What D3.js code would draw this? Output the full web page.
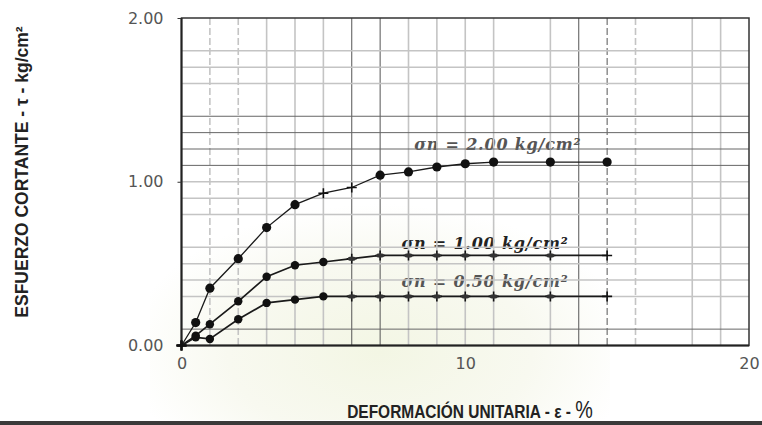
<!DOCTYPE html>
<html><head><meta charset="utf-8">
<script src="https://cdn.jsdelivr.net/npm/d3@7"></script>
<style>html,body{margin:0;padding:0;background:#fff;}svg{display:block}</style>
</head><body>
<svg id="c" width="762" height="425"></svg>
<script>
// ---- data ----
const strainX = [0, 0.5, 1, 2, 3, 4, 5, 6, 7, 8, 9, 10, 11, 13, 15];
const tau200 = [0, 0.14, 0.35, 0.53, 0.72, 0.86, 0.93, 0.965, 1.04, 1.06, 1.09, 1.11, 1.12, 1.12, 1.12];
const tau100 = [0, 0.06, 0.13, 0.27, 0.42, 0.49, 0.51, 0.53, 0.55, 0.55, 0.55, 0.55, 0.55, 0.55, 0.55];
const tau050 = [0, 0.05, 0.04, 0.16, 0.26, 0.28, 0.30, 0.30, 0.30, 0.30, 0.30, 0.30, 0.30, 0.30, 0.30];
const seriesLabels = ["σn = 2.00 kg/cm²", "σn = 1.00 kg/cm²", "σn = 0.50 kg/cm²"];
const xTicks = [0, 10, 20];
const yTicks = [0, 1, 2];
const xTitle = "DEFORMACIÓN UNITARIA - ε - ";
const yTitle = "ESFUERZO CORTANTE - τ - kg/cm²";

// ---- layout ----
const svg = d3.select("#c");
const L = 181.5, R = 749, T = 18, B = 345.5;
const x = d3.scaleLinear().domain([0, 20]).range([L, R]);
const y = d3.scaleLinear().domain([0, 2]).range([B, T]);

// faint scan tint
const defs = svg.append("defs");
const rg = defs.append("radialGradient").attr("id", "tint")
  .attr("cx", 0.5).attr("cy", 0.75).attr("r", 0.55);
rg.append("stop").attr("offset", "0%").attr("stop-color", "#f3f6e4");
rg.append("stop").attr("offset", "60%").attr("stop-color", "#f8f9f0");
rg.append("stop").attr("offset", "100%").attr("stop-color", "#ffffff");
svg.append("rect").attr("x", 150).attr("y", 150).attr("width", 460).attr("height", 270)
  .attr("fill", "url(#tint)");

// series labels (under grid)
const labelY = [1.195, 0.59, 0.36];
const labelX = [8.2, 7.75, 7.75];
const g = svg.append("g");
seriesLabels.forEach((t, i) => {
  g.append("text").attr("x", x(labelX[i])).attr("y", y(labelY[i]))
    .attr("font-family", "DejaVu Serif, serif").attr("font-weight", "bold")
    .attr("font-style", "italic").attr("font-size", 16).attr("letter-spacing", 0.8)
    .attr("fill", i === 1 ? "#222" : "#555")
    .text(t);
});

// grid
const vGrid = d3.range(1, 20).filter(d => d !== 12 && d !== 17);
const darkV = new Set([6, 7, 14, 15]);
svg.append("g").selectAll("line").data(vGrid).join("line")
  .attr("x1", d => x(d)).attr("x2", d => x(d)).attr("y1", T).attr("y2", B)
  .attr("stroke", d => darkV.has(d) ? "#555" : "#c4c4c4")
  .attr("stroke-width", d => darkV.has(d) ? 1 : 1.6)
  .attr("stroke-dasharray", d => (d === 1 || d === 2 || d === 15 || d === 16) ? "7,3" : null);
const hGrid = d3.range(1, 20).filter(d => ![19, 15, 7, 2].includes(d)).map(d => d / 10);
const darkH = d => (d >= 1.05 && d <= 1.45) || d === 0.1;
svg.append("g").selectAll("line").data(hGrid).join("line")
  .attr("x1", L).attr("x2", R).attr("y1", d => y(d)).attr("y2", d => y(d))
  .attr("stroke", d => darkH(d) ? "#666" : "#c4c4c4")
  .attr("stroke-width", d => darkH(d) ? 1 : 1.5);

// frame
svg.append("rect").attr("x", L).attr("y", T).attr("width", R - L).attr("height", B - T)
  .attr("fill", "none").attr("stroke", "#333").attr("stroke-width", 1.5);
svg.append("line").attr("x1", L).attr("x2", L).attr("y1", T).attr("y2", B + 1)
  .attr("stroke", "#222").attr("stroke-width", 2);
svg.append("line").attr("x1", L - 4).attr("x2", R).attr("y1", B).attr("y2", B)
  .attr("stroke", "#222").attr("stroke-width", 2);

// axes tick labels via d3 axes
const yAxis = d3.axisLeft(y).tickValues(yTicks).tickFormat(d3.format(".2f")).tickSize(4).tickPadding(14);
const ya = svg.append("g").attr("transform", `translate(${L},0)`).call(yAxis);
ya.select(".domain").remove();
ya.selectAll("line").attr("stroke", "#333");
ya.selectAll("text").attr("font-family", "DejaVu Sans, sans-serif").attr("font-size", 16).attr("fill", "#555");

const xAxis = d3.axisBottom(x).tickValues(xTicks).tickSize(0).tickPadding(12);
const xa = svg.append("g").attr("transform", `translate(0,${B})`).call(xAxis);
xa.select(".domain").remove();
xa.selectAll("text").attr("font-family", "DejaVu Sans, sans-serif").attr("font-size", 16).attr("fill", "#555");

// series
const all = [tau200, tau100, tau050];
const line = d3.line().x(d => x(d[0])).y(d => y(d[1]));
all.forEach((vals, si) => {
  const pts = strainX.map((v, i) => [v, vals[i]]);
  svg.append("path").datum(pts).attr("d", line).attr("fill", "none")
    .attr("stroke", "#1a1a1a").attr("stroke-width", si === 0 ? 1.3 : 1.7);
  pts.forEach(p => {
    const cross = (si === 0 && (p[0] === 5 || p[0] === 6)) || (si > 0 && p[0] >= 6);
    if (p[0] === 0) {
      svg.append("path").attr("d", `M${x(0)-5},${y(0)}h10M${x(0)},${y(0)-5}v10`)
        .attr("stroke", "#111").attr("stroke-width", 2);
    } else if (cross) {
      svg.append("path").attr("d", `M${x(p[0])-5},${y(p[1])}h10M${x(p[0])},${y(p[1])-5}v10`)
        .attr("stroke", "#111").attr("stroke-width", 1.6);
      if (si > 0 && p[0] < 15) svg.append("ellipse").attr("cx", x(p[0])).attr("cy", y(p[1]))
        .attr("rx", 4).attr("ry", 2.2).attr("fill", "#333");
    } else {
      svg.append("circle").attr("cx", x(p[0])).attr("cy", y(p[1])).attr("r", si === 0 ? 4.6 : 4.2)
        .attr("fill", "#111");
    }
  });
});

// axis titles
const xt = svg.append("text").attr("transform", "translate(470,418) scale(0.86,1)").attr("text-anchor", "middle")
  .attr("font-family", "Liberation Sans, Arial, sans-serif")
  .attr("font-weight", "bold").attr("font-size", 18).attr("fill", "#222");
xt.append("tspan").text(xTitle);
xt.append("tspan").attr("font-size", 23).attr("font-weight", "normal").text("%");

svg.append("text").attr("transform", "translate(28,172) rotate(-90)").attr("text-anchor", "middle")
  .attr("font-family", "Liberation Sans, Arial, sans-serif").attr("font-weight", "bold")
  .attr("font-size", 17.5).attr("fill", "#222").text(yTitle);

// scan edge at bottom
svg.append("rect").attr("x", 0).attr("y", 421).attr("width", 762).attr("height", 4).attr("fill", "#3a3a3a");
</script>
</body></html>
